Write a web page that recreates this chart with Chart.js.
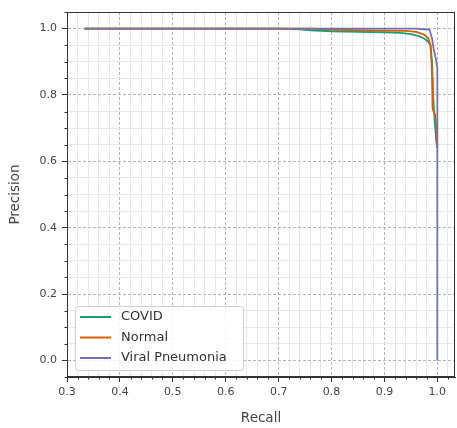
<!DOCTYPE html>
<html lang="en">
<head>
<meta charset="UTF-8">
<title>Precision-Recall Curves</title>
<script src="https://cdn.jsdelivr.net/npm/chart.js@4.4.0/dist/chart.umd.min.js"></script>
<style>
    html, body { margin: 0; padding: 0; background: #fff; }
    #wrap { width: 457px; height: 428px; }
</style>
</head>
<body>
<div id="wrap"><canvas id="prChart" width="457" height="428"></canvas></div>
<script>
    // Class names and colours (Dark2)
    const classNames = ['COVID', 'Normal', 'Viral Pneumonia'];
    const classColors = ['#1b9e77', '#d95f02', '#7570b3'];

    // Curves
    const covidRecall = [0.333, 0.70, 0.74, 0.76, 0.80, 0.85, 0.90, 0.93, 0.95, 0.965, 0.975, 0.982, 0.987, 0.990, 0.992, 0.995, 0.998, 1.0];
    const covidPrecision = [1.000, 1.000, 0.998, 0.995, 0.992, 0.990, 0.989, 0.987, 0.983, 0.977, 0.970, 0.962, 0.950, 0.900, 0.800, 0.720, 0.660, 0.640];

    const normalRecall = [0.333, 0.76, 0.80, 0.85, 0.90, 0.94, 0.96, 0.975, 0.983, 0.987, 0.989, 0.990, 0.991, 0.993, 0.996, 0.998, 1.0];
    const normalPrecision = [1.000, 1.000, 0.997, 0.995, 0.994, 0.993, 0.990, 0.982, 0.970, 0.950, 0.900, 0.850, 0.760, 0.750, 0.740, 0.700, 0.650];

    const viralRecall = [0.333, 0.96, 0.975, 0.985, 0.990, 0.993, 0.997, 1.0, 1.0];
    const viralPrecision = [1.000, 1.000, 0.998, 0.997, 0.970, 0.940, 0.910, 0.880, 0.000];

    // Axis ranges and ticks
    const xRange = [0.2999, 1.0334];
    const yRange = [-0.05, 1.05];
    const xMajorTicks = [0.3, 0.4, 0.5, 0.6, 0.7, 0.8, 0.9, 1.0];
    const yMajorTicks = [0.0, 0.2, 0.4, 0.6, 0.8, 1.0];
    const xMinorStep = 0.02;
    const yMinorStep = 0.05;

    const allRecall = [covidRecall, normalRecall, viralRecall];
    const allPrecision = [covidPrecision, normalPrecision, viralPrecision];

    function isMajor(v, majors) {
        return majors.some(m => Math.abs(m - v) < 1e-6);
    }

    function stepTicks(min, max, step) {
        const out = [];
        const start = Math.ceil(min / step - 1e-9);
        const end = Math.floor(max / step + 1e-9);
        for (let i = start; i <= end; i++) out.push({ value: Math.round(i * step * 1000) / 1000 });
        return out;
    }

    // later classes drawn on top (lower order = drawn last)
    const datasets = classNames.map((name, k) => ({
        label: name,
        data: allRecall[k].map((r, i) => ({ x: r, y: allPrecision[k][i] })),
        borderColor: classColors[k],
        backgroundColor: classColors[k],
        borderWidth: 1.8,
        pointRadius: 0,
        showLine: true,
        fill: false,
        tension: 0,
        order: classNames.length - k
    }));

    // Frame + minor tick marks
    const framePlugin = {
        id: 'frame',
        afterDraw(chart) {
            const { ctx, chartArea: a, scales } = chart;
            ctx.save();
            ctx.strokeStyle = '#333';
            ctx.lineWidth = 1;
            ctx.strokeRect(a.left + 0.5, a.top + 0.5, a.right - a.left - 1, a.bottom - a.top - 1);
            ctx.beginPath();
            scales.x.ticks.forEach(t => {
                if (isMajor(t.value, xMajorTicks)) return;
                const px = Math.round(scales.x.getPixelForValue(t.value)) + 0.5;
                ctx.moveTo(px, a.bottom);
                ctx.lineTo(px, a.bottom + 2.5);
            });
            scales.y.ticks.forEach(t => {
                if (isMajor(t.value, yMajorTicks)) return;
                const py = Math.round(scales.y.getPixelForValue(t.value)) + 0.5;
                ctx.moveTo(a.left, py);
                ctx.lineTo(a.left - 2.5, py);
            });
            ctx.stroke();
            ctx.restore();
        }
    };

    // Legend inside the plot, lower left
    const insideLegend = {
        id: 'insideLegend',
        afterDatasetsDraw(chart) {
            const { ctx, chartArea: a } = chart;
            const boxX = a.left + 8, boxW = 168, boxH = 64;
            const boxY = a.bottom - 7 - boxH;
            ctx.save();
            ctx.fillStyle = 'rgba(255,255,255,0.85)';
            ctx.strokeStyle = '#d0d0d0';
            ctx.lineWidth = 1;
            ctx.beginPath();
            ctx.roundRect(boxX + 0.5, boxY + 0.5, boxW, boxH, 3);
            ctx.fill();
            ctx.stroke();
            ctx.font = '13px "DejaVu Sans"';
            ctx.textBaseline = 'middle';
            chart.data.datasets.forEach((ds, i) => {
                const cy = boxY + 11 + i * 20.5;
                ctx.strokeStyle = ds.borderColor;
                ctx.lineWidth = 2;
                ctx.beginPath();
                ctx.moveTo(boxX + 5, cy);
                ctx.lineTo(boxX + 36, cy);
                ctx.stroke();
                ctx.fillStyle = '#333';
                ctx.fillText(ds.label, boxX + 46, cy);
            });
            ctx.restore();
        }
    };

    const tickFont = { family: 'DejaVu Sans', size: 11 };
    const titleFont = { family: 'DejaVu Sans', size: 13.5 };

    new Chart(document.getElementById('prChart'), {
        type: 'scatter',
        data: { datasets: datasets },
        options: {
            responsive: false,
            animation: false,
            devicePixelRatio: 1,
            layout: { padding: { left: 0, top: 12, right: 2, bottom: 0 } },
            plugins: {
                legend: { display: false },
                tooltip: { enabled: false }
            },
            scales: {
                x: {
                    type: 'linear',
                    min: xRange[0],
                    max: xRange[1],
                    afterBuildTicks: s => { s.ticks = stepTicks(xRange[0], xRange[1], xMinorStep); },
                    afterFit: s => { s.height = 51; },
                    ticks: {
                        autoSkip: false,
                        maxRotation: 0,
                        padding: 4,
                        color: '#444',
                        font: tickFont,
                        callback: v => isMajor(v, xMajorTicks) ? v.toFixed(1) : ''
                    },
                    grid: {
                        color: c => isMajor(c.tick.value, xMajorTicks) ? '#b4b4b4' : '#e8e8e8',
                        tickColor: c => isMajor(c.tick.value, xMajorTicks) ? '#333' : 'rgba(0,0,0,0)',
                        tickLength: 5,
                        lineWidth: 1
                    },
                    border: {
                        color: '#333',
                        width: 1,
                        dash: c => (c.tick && isMajor(c.tick.value, xMajorTicks)) ? [3, 2] : []
                    },
                    title: {
                        display: true,
                        text: 'Recall',
                        color: '#444',
                        font: titleFont,
                        padding: { top: 0, bottom: 1 }
                    }
                },
                y: {
                    type: 'linear',
                    min: yRange[0],
                    max: yRange[1],
                    afterBuildTicks: s => { s.ticks = stepTicks(yRange[0], yRange[1], yMinorStep); },
                    afterFit: s => { s.width = 67; },
                    ticks: {
                        autoSkip: false,
                        padding: 5,
                        color: '#444',
                        font: tickFont,
                        callback: v => isMajor(v, yMajorTicks) ? v.toFixed(1) : ''
                    },
                    grid: {
                        color: c => isMajor(c.tick.value, yMajorTicks) ? '#b4b4b4' : '#e8e8e8',
                        tickColor: c => isMajor(c.tick.value, yMajorTicks) ? '#333' : 'rgba(0,0,0,0)',
                        tickLength: 5,
                        lineWidth: 1
                    },
                    border: {
                        color: '#333',
                        width: 1,
                        dash: c => (c.tick && isMajor(c.tick.value, yMajorTicks)) ? [3, 2] : []
                    },
                    title: {
                        display: true,
                        text: 'Precision',
                        color: '#444',
                        font: titleFont,
                        padding: { top: 7, bottom: 0 }
                    }
                }
            }
        },
        plugins: [framePlugin, insideLegend]
    });
</script>
</body>
</html>
